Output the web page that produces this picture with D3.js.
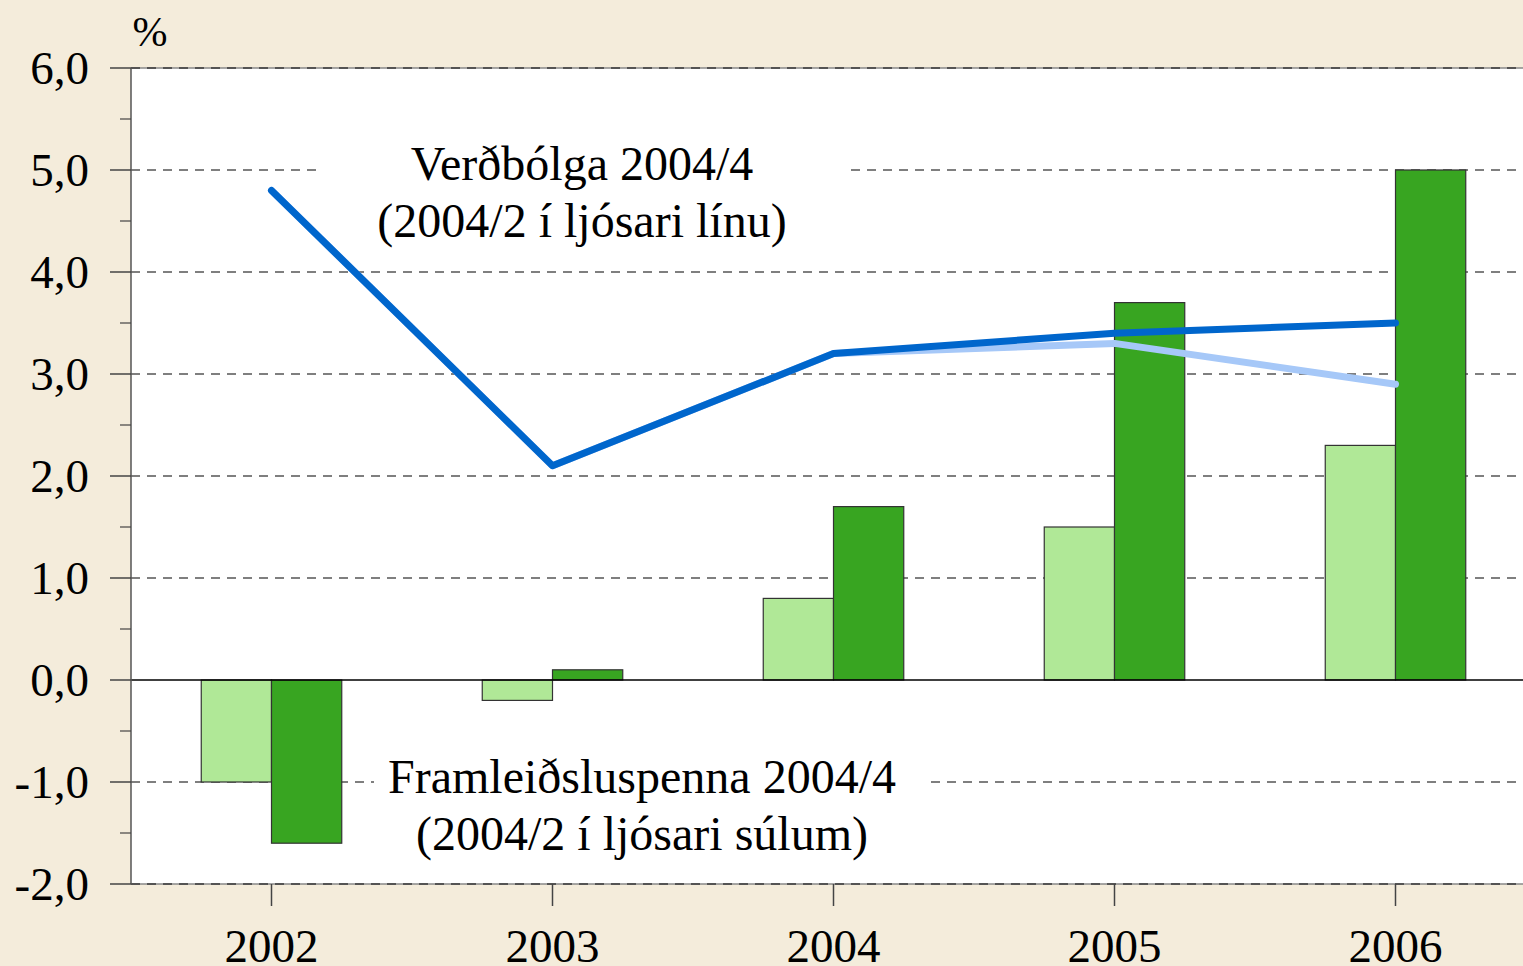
<!DOCTYPE html>
<html><head><meta charset="utf-8">
<script src="https://cdn.jsdelivr.net/npm/d3@7"></script>
<style>html,body{margin:0;padding:0;background:#F4ECDB;overflow:hidden}</style>
</head><body>
<script>
const categories = ["2002","2003","2004","2005","2006"];
const gapOld = [-1.0, -0.2, 0.8, 1.5, 2.3];      // Framleiðsluspenna 2004/2 (ljósari súlur)
const gapNew = [-1.6, 0.1, 1.7, 3.7, 5.0];       // Framleiðsluspenna 2004/4
const inflOld = [4.8, 2.1, 3.2, 3.3, 2.9];       // Verðbólga 2004/2 (ljósari lína)
const inflNew = [4.8, 2.1, 3.2, 3.4, 3.5];       // Verðbólga 2004/4
const yTicks = [-2, -1, 0, 1, 2, 3, 4, 5, 6];
const yMinor = [-1.5, -0.5, 0.5, 1.5, 2.5, 3.5, 4.5, 5.5];

const W = 1523, H = 966;
const svg = d3.select("body").append("svg").attr("width", W).attr("height", H);
svg.append("rect").attr("width", W).attr("height", H).attr("fill", "#F4ECDB");

const x = d3.scaleBand().domain(categories).range([131, 1536]).padding(0);
const y = d3.scaleLinear().domain([-2, 6]).range([884, 68]);
const bw = x.bandwidth() * 0.25;
const font = "'Times New Roman','Liberation Serif',Times,serif";

// plot area
svg.append("rect").attr("x", 131).attr("y", y(6)).attr("width", W - 131).attr("height", y(-2) - y(6)).attr("fill", "#fff");

// gridlines
svg.append("g").selectAll("line").data(yTicks.filter(d => d !== 0)).join("line")
  .attr("x1", 131).attr("x2", W).attr("y1", d => y(d)).attr("y2", d => y(d))
  .attr("stroke", "#000").attr("stroke-width", 1.2).attr("stroke-dasharray", "9,7");
[6, -2].forEach(v => {
  svg.append("line").attr("x1", 131).attr("x2", W).attr("y1", y(v)).attr("y2", y(v))
    .attr("stroke", "#888").attr("stroke-width", 1.5);
  svg.append("line").attr("x1", 131).attr("x2", W).attr("y1", y(v)).attr("y2", y(v))
    .attr("stroke", "#444").attr("stroke-width", 1.5).attr("stroke-dasharray", "9,7");
});

// white label boxes covering gridlines
svg.append("rect").attr("x", 320).attr("y", 135).attr("width", 525).attr("height", 118).attr("fill", "#fff");
svg.append("rect").attr("x", 374).attr("y", 748).attr("width", 554).attr("height", 118).attr("fill", "#fff");

// bars
const gBars = svg.append("g");
gBars.selectAll("rect.old").data(gapOld).join("rect")
  .attr("x", (d, i) => x(categories[i]) + x.bandwidth() / 2 - bw)
  .attr("y", d => y(Math.max(0, d))).attr("width", bw)
  .attr("height", d => Math.abs(y(d) - y(0)))
  .attr("fill", "#B0E897").attr("stroke", "#333").attr("stroke-width", 1.2);
gBars.selectAll("rect.new").data(gapNew).join("rect")
  .attr("x", (d, i) => x(categories[i]) + x.bandwidth() / 2)
  .attr("y", d => y(Math.max(0, d))).attr("width", bw)
  .attr("height", d => Math.abs(y(d) - y(0)))
  .attr("fill", "#38A521").attr("stroke", "#333").attr("stroke-width", 1.2);

// zero line
svg.append("line").attr("x1", 131).attr("x2", W).attr("y1", y(0)).attr("y2", y(0))
  .attr("stroke", "#000").attr("stroke-width", 1.5);

// lines
const line = d3.line().x((d, i) => x(categories[i]) + x.bandwidth() / 2).y(d => y(d));
svg.append("path").datum(inflOld).attr("d", line).attr("fill", "none")
  .attr("stroke", "#A6C8F8").attr("stroke-width", 7).attr("stroke-linecap", "round").attr("stroke-linejoin", "round");
svg.append("path").datum(inflNew).attr("d", line).attr("fill", "none")
  .attr("stroke", "#0066CC").attr("stroke-width", 7).attr("stroke-linecap", "round").attr("stroke-linejoin", "round");

// y axis
svg.append("line").attr("x1", 131).attr("x2", 131).attr("y1", y(6)).attr("y2", y(-2)).attr("stroke", "#555").attr("stroke-width", 1.5);
svg.append("g").selectAll("line").data(yTicks).join("line")
  .attr("x1", 110).attr("x2", 131).attr("y1", d => y(d)).attr("y2", d => y(d)).attr("stroke", "#444").attr("stroke-width", 1.5);
svg.append("g").selectAll("line").data(yMinor).join("line")
  .attr("x1", 120).attr("x2", 131).attr("y1", d => y(d)).attr("y2", d => y(d)).attr("stroke", "#444").attr("stroke-width", 1.2);
svg.append("g").selectAll("text").data(yTicks).join("text")
  .attr("x", 89).attr("y", d => y(d) + 16).attr("text-anchor", "end")
  .attr("font-family", font).attr("font-size", 47).attr("fill", "#000")
  .text(d => d3.format(".1f")(d).replace(".", ",").replace("−", "-"));
svg.append("text").attr("x", 150).attr("y", 46).attr("text-anchor", "middle")
  .attr("font-family", font).attr("font-size", 42).text("%");

// x axis ticks and labels
svg.append("g").selectAll("line").data(categories).join("line")
  .attr("x1", d => x(d) + x.bandwidth() / 2).attr("x2", d => x(d) + x.bandwidth() / 2)
  .attr("y1", y(-2)).attr("y2", y(-2) + 22).attr("stroke", "#444").attr("stroke-width", 1.5);
svg.append("g").selectAll("text").data(categories).join("text")
  .attr("x", d => x(d) + x.bandwidth() / 2).attr("y", 962).attr("text-anchor", "middle")
  .attr("font-family", font).attr("font-size", 47).text(d => d);

// annotations
const ann = (cx, y1, l1, l2) => {
  const t = svg.append("text").attr("text-anchor", "middle").attr("font-family", font).attr("font-size", 48);
  t.append("tspan").attr("x", cx).attr("y", y1).text(l1);
  t.append("tspan").attr("x", cx).attr("y", y1 + 57).text(l2);
};
ann(582, 180, "Verðbólga 2004/4", "(2004/2 í ljósari línu)");
ann(642, 793, "Framleiðsluspenna 2004/4", "(2004/2 í ljósari súlum)");
</script>
</body></html>
